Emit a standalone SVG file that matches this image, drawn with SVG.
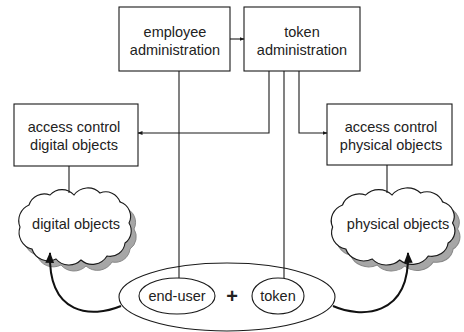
<svg xmlns="http://www.w3.org/2000/svg" width="464" height="332" viewBox="0 0 464 332">
  <style>
    .box { fill: #fff; stroke: #1a1a1a; stroke-width: 1.1; }
    .lbl { font-family: "Liberation Sans", Arial, sans-serif; font-size: 14.5px; fill: #222; text-anchor: middle; }
    .wire { fill: none; stroke: #1a1a1a; stroke-width: 1.1; }
    .thick { fill: none; stroke: #111; stroke-width: 2; }
    .cloud { fill: #fff; stroke: #1a1a1a; stroke-width: 1.1; }
    .shadow { fill: #a6a6a6; stroke: #888; stroke-width: 1; }
    .ell { fill: #fff; stroke: #1a1a1a; stroke-width: 1.1; }
  </style>
  <defs>
    <marker id="tip" viewBox="0 0 10 10" refX="9" refY="5" markerWidth="5" markerHeight="5" orient="auto" markerUnits="userSpaceOnUse">
      <path d="M0,1 L10,5 L0,9 z" fill="#1a1a1a"/>
    </marker>
    <marker id="bigtip" viewBox="0 0 10 10" refX="9" refY="5" markerWidth="11" markerHeight="11" orient="auto" markerUnits="userSpaceOnUse">
      <path d="M0,1 L10,5 L0,9 z" fill="#111"/>
    </marker>
    <path id="cloudShape" d="M6,40 A17,17 0 0 1 15,18 A16,16 0 0 1 36,8 A16,16 0 0 1 60,8 A17,17 0 0 1 86,6 A15,15 0 0 1 106,15 A15,15 0 0 1 115,36 A15,15 0 0 1 111,56 A15,15 0 0 1 93,69 A17,17 0 0 1 67,73 A17,17 0 0 1 42,72 A17,17 0 0 1 18,62 A17,17 0 0 1 6,40 Z"/>
  </defs>

  <!-- big ellipse holding end-user + token -->
  <g id="user-token">
    <ellipse class="ell" cx="227" cy="297" rx="108" ry="34"/>
    <ellipse class="ell" cx="177" cy="296" rx="38" ry="18"/>
    <text class="lbl" x="177" y="301">end-user</text>
    <ellipse class="ell" cx="278" cy="296" rx="26" ry="18"/>
    <text class="lbl" x="278" y="301">token</text>
    <text x="232" y="303" font-family="Liberation Sans, Arial, sans-serif" font-size="20" font-weight="bold" fill="#222" text-anchor="middle">+</text>
  </g>

  <g id="employee-administration">
    <rect class="box" x="119" y="7" width="111" height="64"/>
    <text class="lbl" x="175" y="37">employee</text>
    <text class="lbl" x="175" y="55">administration</text>
  </g>

  <g id="token-administration">
    <rect class="box" x="244" y="7" width="116" height="64"/>
    <text class="lbl" x="302" y="37">token</text>
    <text class="lbl" x="302" y="55">administration</text>
  </g>

  <g id="access-digital">
    <rect class="box" x="14" y="104" width="124" height="62"/>
    <text class="lbl" x="74" y="132">access control</text>
    <text class="lbl" x="74" y="150">digital objects</text>
  </g>

  <g id="access-physical">
    <rect class="box" x="327" y="104" width="125" height="61"/>
    <text class="lbl" x="391" y="132">access control</text>
    <text class="lbl" x="391" y="150">physical objects</text>
  </g>

  <g id="digital-objects">
    <use href="#cloudShape" class="shadow" transform="translate(19,193)"/>
    <use href="#cloudShape" class="cloud" transform="translate(14,187)"/>
    <text class="lbl" x="76" y="229">digital objects</text>
  </g>

  <g id="physical-objects">
    <use href="#cloudShape" class="shadow" transform="translate(331,193) scale(1.1,1)"/>
    <use href="#cloudShape" class="cloud" transform="translate(326,187) scale(1.1,1)"/>
    <text class="lbl" x="398" y="229">physical objects</text>
  </g>

  <!-- connectors -->
  <g id="connectors">
    <line class="wire" x1="230" y1="39" x2="244" y2="39" marker-end="url(#tip)"/>
    <path class="wire" d="M269,71 V133 H138" marker-end="url(#tip)"/>
    <path class="wire" d="M299,71 V133 H327" marker-end="url(#tip)"/>
    <line class="wire" x1="284" y1="71" x2="284" y2="278"/>
    <line class="wire" x1="179" y1="71" x2="179" y2="278"/>
    <line class="wire" x1="69" y1="166" x2="69" y2="193"/>
    <line class="wire" x1="387" y1="165" x2="387" y2="193"/>
    <path class="thick" d="M121,306 C92,318 48,316 50,253" marker-end="url(#bigtip)"/>
    <path class="thick" d="M333,306 C360,318 410,318 408,253" marker-end="url(#bigtip)"/>
  </g>
</svg>
